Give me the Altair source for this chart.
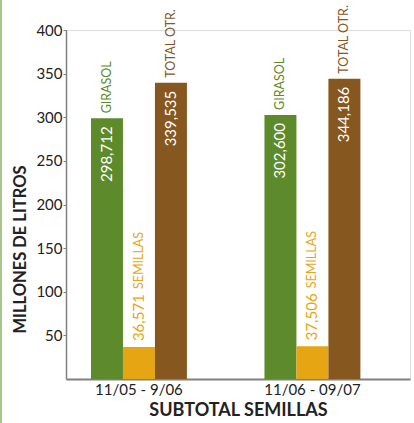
import altair as alt
import pandas as pd

periods = ["11/05 - 9/06", "11/06 - 09/07"]
series = ["GIRASOL", "SEMILLAS", "TOTAL OTR."]
girasol = [298.712, 302.600]
semillas = [36.571, 37.506]
total_otr = [339.535, 344.186]
y_ticks = [50, 100, 150, 200, 250, 300, 350, 400]
colors = ["#5d8a2a", "#e6a614", "#86571f"]

rows = []
for i, p in enumerate(periods):
    for s, vals in zip(series, [girasol, semillas, total_otr]):
        v = vals[i]
        rows.append({"period": p, "series": s, "value": v,
                     "label": f"{v:.3f}".replace(".", ",")})
df = pd.DataFrame(rows)

FONT = "Lato"

x_enc = alt.X("period:N", sort=periods,
              scale=alt.Scale(paddingInner=0.447, paddingOuter=0.215, align=0.335),
              axis=alt.Axis(title="SUBTOTAL SEMILLAS", labelAngle=0, ticks=False,
                            domainColor="#808080", domainWidth=2,
                            labelFontSize=15, labelColor="#222222", labelPadding=3,
                            labelFont=FONT, titleFont=FONT, titleFontSize=18,
                            titleFontWeight="bold", titleColor="#222222", titlePadding=4))
xo = alt.XOffset("series:N", sort=series, scale=alt.Scale(paddingInner=0, paddingOuter=0))
y_enc = alt.Y("value:Q", scale=alt.Scale(domain=[0, 400], nice=False),
              axis=alt.Axis(title="MILLONES DE LITROS", values=y_ticks, grid=False,
                            domainColor="#808080", domainWidth=1.5, tickColor="#808080",
                            tickSize=3, labelPadding=1, labelFontSize=15,
                            labelColor="#222222", labelFont=FONT, titleFont=FONT,
                            titleFontSize=16.5, titleFontWeight="bold", titleColor="#222222",
                            titlePadding=7, titleY=219))
color_enc = alt.Color("series:N", sort=series,
                      scale=alt.Scale(domain=series, range=colors), legend=None)

base = alt.Chart(df).encode(x=x_enc, xOffset=xo, y=y_enc)

bars = base.mark_bar().encode(color=color_enc)

inside = base.transform_filter(alt.datum.series != "SEMILLAS").mark_text(
    angle=270, align="right", baseline="middle", dx=-8, color="white",
    fontSize=15, font=FONT).encode(text="label:N")

semi_val = base.transform_filter(alt.datum.series == "SEMILLAS").mark_text(
    angle=270, align="left", baseline="middle", dx=6, color="#e6a614",
    fontSize=15, font=FONT).encode(text="label:N")

names = base.transform_filter(alt.datum.series != "SEMILLAS").mark_text(
    angle=270, align="left", baseline="middle", dx=5,
    fontSize=12.5, font=FONT).encode(text="series:N", color=color_enc)

semi_name = base.transform_filter(alt.datum.series == "SEMILLAS").mark_text(
    angle=270, align="left", baseline="middle", dx=58, color="#e6a614",
    fontSize=12.5, font=FONT).encode(text="series:N")

border = alt.Chart(df).mark_rule(color="#a9c48c", strokeWidth=2).encode(
    x=alt.value(-65), y=alt.value(-40), y2=alt.value(400))

chart = alt.layer(border, bars, inside, semi_val, names, semi_name).properties(
    width=344, height=349, autosize="none",
    padding={"left": 66, "top": 30, "right": 4, "bottom": 44},
).configure_view(stroke=None).configure(background="white")

chart.save("out.html", embed_options={"renderer": "svg", "actions": False})
